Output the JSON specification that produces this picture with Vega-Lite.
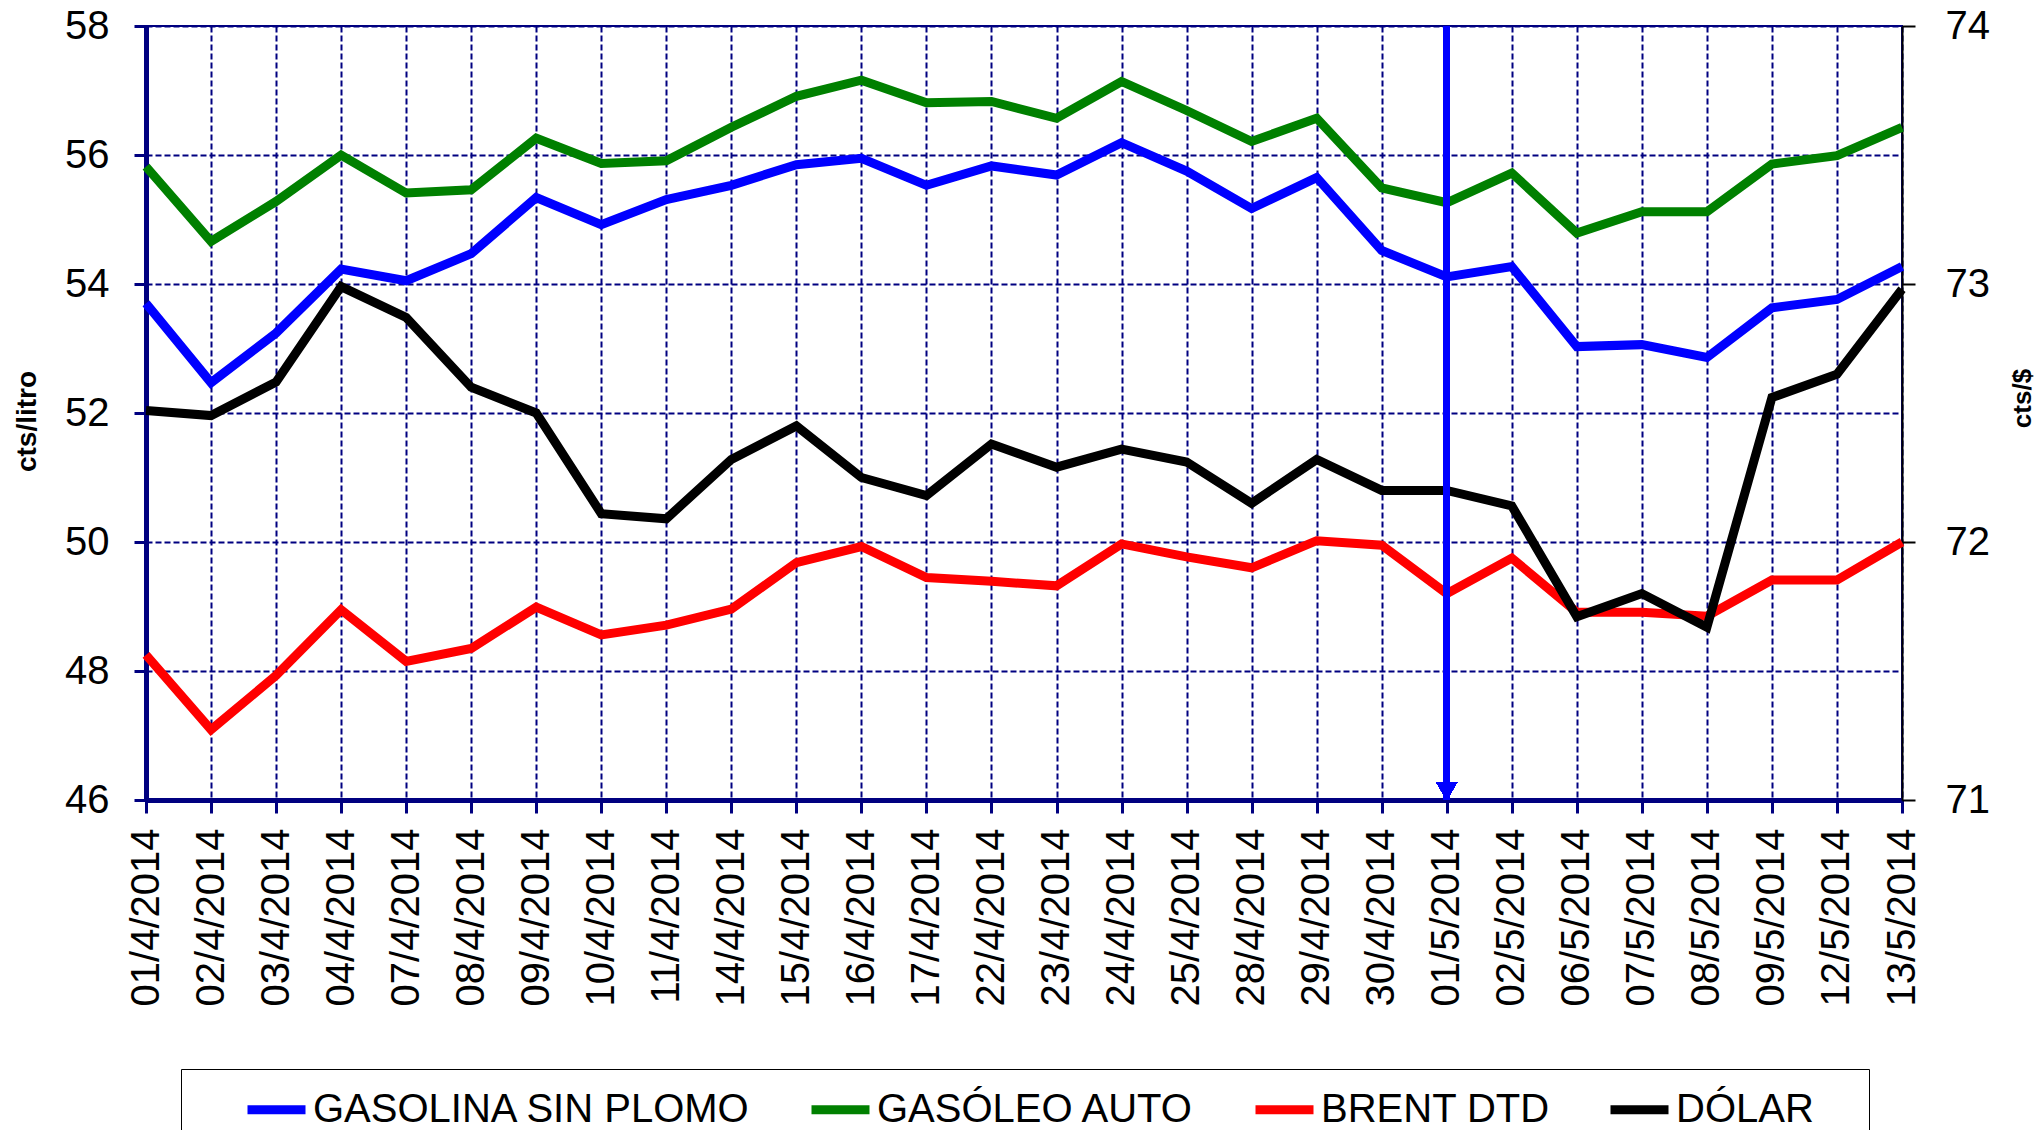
{
  "$schema": "https://vega.github.io/schema/vega-lite/v6.json",
  "width": 1756,
  "height": 774,
  "autosize": {"type": "none"},
  "padding": {"left": 146, "top": 26, "right": 135, "bottom": 330},
  "background": "white",
  "config": {
    "font": "Liberation Sans",
    "view": {"stroke": "#000080", "strokeWidth": 2},
    "axis": {"labelFont": "Liberation Sans", "labelFontSize": 40, "labelColor": "black", "titleFont": "Liberation Sans"}
  },
  "data": {"values": [
    {"fecha": "01/4/2014", "serie": "GASOLINA SIN PLOMO", "valor": 53.70},
    {"fecha": "02/4/2014", "serie": "GASOLINA SIN PLOMO", "valor": 52.47},
    {"fecha": "03/4/2014", "serie": "GASOLINA SIN PLOMO", "valor": 53.24},
    {"fecha": "04/4/2014", "serie": "GASOLINA SIN PLOMO", "valor": 54.23},
    {"fecha": "07/4/2014", "serie": "GASOLINA SIN PLOMO", "valor": 54.05},
    {"fecha": "08/4/2014", "serie": "GASOLINA SIN PLOMO", "valor": 54.47},
    {"fecha": "09/4/2014", "serie": "GASOLINA SIN PLOMO", "valor": 55.34},
    {"fecha": "10/4/2014", "serie": "GASOLINA SIN PLOMO", "valor": 54.92},
    {"fecha": "11/4/2014", "serie": "GASOLINA SIN PLOMO", "valor": 55.31},
    {"fecha": "14/4/2014", "serie": "GASOLINA SIN PLOMO", "valor": 55.53},
    {"fecha": "15/4/2014", "serie": "GASOLINA SIN PLOMO", "valor": 55.85},
    {"fecha": "16/4/2014", "serie": "GASOLINA SIN PLOMO", "valor": 55.95},
    {"fecha": "17/4/2014", "serie": "GASOLINA SIN PLOMO", "valor": 55.53},
    {"fecha": "22/4/2014", "serie": "GASOLINA SIN PLOMO", "valor": 55.83},
    {"fecha": "23/4/2014", "serie": "GASOLINA SIN PLOMO", "valor": 55.69},
    {"fecha": "24/4/2014", "serie": "GASOLINA SIN PLOMO", "valor": 56.19},
    {"fecha": "25/4/2014", "serie": "GASOLINA SIN PLOMO", "valor": 55.75},
    {"fecha": "28/4/2014", "serie": "GASOLINA SIN PLOMO", "valor": 55.17},
    {"fecha": "29/4/2014", "serie": "GASOLINA SIN PLOMO", "valor": 55.65},
    {"fecha": "30/4/2014", "serie": "GASOLINA SIN PLOMO", "valor": 54.52},
    {"fecha": "01/5/2014", "serie": "GASOLINA SIN PLOMO", "valor": 54.11},
    {"fecha": "02/5/2014", "serie": "GASOLINA SIN PLOMO", "valor": 54.27},
    {"fecha": "06/5/2014", "serie": "GASOLINA SIN PLOMO", "valor": 53.03},
    {"fecha": "07/5/2014", "serie": "GASOLINA SIN PLOMO", "valor": 53.06},
    {"fecha": "08/5/2014", "serie": "GASOLINA SIN PLOMO", "valor": 52.86},
    {"fecha": "09/5/2014", "serie": "GASOLINA SIN PLOMO", "valor": 53.63},
    {"fecha": "12/5/2014", "serie": "GASOLINA SIN PLOMO", "valor": 53.76},
    {"fecha": "13/5/2014", "serie": "GASOLINA SIN PLOMO", "valor": 54.27},
    {"fecha": "01/4/2014", "serie": "GASÓLEO AUTO", "valor": 55.82},
    {"fecha": "02/4/2014", "serie": "GASÓLEO AUTO", "valor": 54.66},
    {"fecha": "03/4/2014", "serie": "GASÓLEO AUTO", "valor": 55.28},
    {"fecha": "04/4/2014", "serie": "GASÓLEO AUTO", "valor": 56.00},
    {"fecha": "07/4/2014", "serie": "GASÓLEO AUTO", "valor": 55.41},
    {"fecha": "08/4/2014", "serie": "GASÓLEO AUTO", "valor": 55.46},
    {"fecha": "09/4/2014", "serie": "GASÓLEO AUTO", "valor": 56.26},
    {"fecha": "10/4/2014", "serie": "GASÓLEO AUTO", "valor": 55.87},
    {"fecha": "11/4/2014", "serie": "GASÓLEO AUTO", "valor": 55.91},
    {"fecha": "14/4/2014", "serie": "GASÓLEO AUTO", "valor": 56.43},
    {"fecha": "15/4/2014", "serie": "GASÓLEO AUTO", "valor": 56.91},
    {"fecha": "16/4/2014", "serie": "GASÓLEO AUTO", "valor": 57.16},
    {"fecha": "17/4/2014", "serie": "GASÓLEO AUTO", "valor": 56.81},
    {"fecha": "22/4/2014", "serie": "GASÓLEO AUTO", "valor": 56.83},
    {"fecha": "23/4/2014", "serie": "GASÓLEO AUTO", "valor": 56.57},
    {"fecha": "24/4/2014", "serie": "GASÓLEO AUTO", "valor": 57.14},
    {"fecha": "25/4/2014", "serie": "GASÓLEO AUTO", "valor": 56.69},
    {"fecha": "28/4/2014", "serie": "GASÓLEO AUTO", "valor": 56.21},
    {"fecha": "29/4/2014", "serie": "GASÓLEO AUTO", "valor": 56.57},
    {"fecha": "30/4/2014", "serie": "GASÓLEO AUTO", "valor": 55.49},
    {"fecha": "01/5/2014", "serie": "GASÓLEO AUTO", "valor": 55.26},
    {"fecha": "02/5/2014", "serie": "GASÓLEO AUTO", "valor": 55.72},
    {"fecha": "06/5/2014", "serie": "GASÓLEO AUTO", "valor": 54.79},
    {"fecha": "07/5/2014", "serie": "GASÓLEO AUTO", "valor": 55.12},
    {"fecha": "08/5/2014", "serie": "GASÓLEO AUTO", "valor": 55.12},
    {"fecha": "09/5/2014", "serie": "GASÓLEO AUTO", "valor": 55.86},
    {"fecha": "12/5/2014", "serie": "GASÓLEO AUTO", "valor": 55.99},
    {"fecha": "13/5/2014", "serie": "GASÓLEO AUTO", "valor": 56.43},
    {"fecha": "01/4/2014", "serie": "BRENT DTD", "valor": 48.25},
    {"fecha": "02/4/2014", "serie": "BRENT DTD", "valor": 47.09},
    {"fecha": "03/4/2014", "serie": "BRENT DTD", "valor": 47.93},
    {"fecha": "04/4/2014", "serie": "BRENT DTD", "valor": 48.95},
    {"fecha": "07/4/2014", "serie": "BRENT DTD", "valor": 48.15},
    {"fecha": "08/4/2014", "serie": "BRENT DTD", "valor": 48.35},
    {"fecha": "09/4/2014", "serie": "BRENT DTD", "valor": 48.99},
    {"fecha": "10/4/2014", "serie": "BRENT DTD", "valor": 48.56},
    {"fecha": "11/4/2014", "serie": "BRENT DTD", "valor": 48.71},
    {"fecha": "14/4/2014", "serie": "BRENT DTD", "valor": 48.96},
    {"fecha": "15/4/2014", "serie": "BRENT DTD", "valor": 49.68},
    {"fecha": "16/4/2014", "serie": "BRENT DTD", "valor": 49.93},
    {"fecha": "17/4/2014", "serie": "BRENT DTD", "valor": 49.45},
    {"fecha": "22/4/2014", "serie": "BRENT DTD", "valor": 49.39},
    {"fecha": "23/4/2014", "serie": "BRENT DTD", "valor": 49.32},
    {"fecha": "24/4/2014", "serie": "BRENT DTD", "valor": 49.97},
    {"fecha": "25/4/2014", "serie": "BRENT DTD", "valor": 49.77},
    {"fecha": "28/4/2014", "serie": "BRENT DTD", "valor": 49.60},
    {"fecha": "29/4/2014", "serie": "BRENT DTD", "valor": 50.02},
    {"fecha": "30/4/2014", "serie": "BRENT DTD", "valor": 49.95},
    {"fecha": "01/5/2014", "serie": "BRENT DTD", "valor": 49.20},
    {"fecha": "02/5/2014", "serie": "BRENT DTD", "valor": 49.75},
    {"fecha": "06/5/2014", "serie": "BRENT DTD", "valor": 48.91},
    {"fecha": "07/5/2014", "serie": "BRENT DTD", "valor": 48.91},
    {"fecha": "08/5/2014", "serie": "BRENT DTD", "valor": 48.85},
    {"fecha": "09/5/2014", "serie": "BRENT DTD", "valor": 49.41},
    {"fecha": "12/5/2014", "serie": "BRENT DTD", "valor": 49.41},
    {"fecha": "13/5/2014", "serie": "BRENT DTD", "valor": 50.00},
    {"fecha": "01/4/2014", "serie": "DÓLAR", "valor": 72.51},
    {"fecha": "02/4/2014", "serie": "DÓLAR", "valor": 72.49},
    {"fecha": "03/4/2014", "serie": "DÓLAR", "valor": 72.62},
    {"fecha": "04/4/2014", "serie": "DÓLAR", "valor": 72.99},
    {"fecha": "07/4/2014", "serie": "DÓLAR", "valor": 72.87},
    {"fecha": "08/4/2014", "serie": "DÓLAR", "valor": 72.60},
    {"fecha": "09/4/2014", "serie": "DÓLAR", "valor": 72.50},
    {"fecha": "10/4/2014", "serie": "DÓLAR", "valor": 72.11},
    {"fecha": "11/4/2014", "serie": "DÓLAR", "valor": 72.09},
    {"fecha": "14/4/2014", "serie": "DÓLAR", "valor": 72.32},
    {"fecha": "15/4/2014", "serie": "DÓLAR", "valor": 72.45},
    {"fecha": "16/4/2014", "serie": "DÓLAR", "valor": 72.25},
    {"fecha": "17/4/2014", "serie": "DÓLAR", "valor": 72.18},
    {"fecha": "22/4/2014", "serie": "DÓLAR", "valor": 72.38},
    {"fecha": "23/4/2014", "serie": "DÓLAR", "valor": 72.29},
    {"fecha": "24/4/2014", "serie": "DÓLAR", "valor": 72.36},
    {"fecha": "25/4/2014", "serie": "DÓLAR", "valor": 72.31},
    {"fecha": "28/4/2014", "serie": "DÓLAR", "valor": 72.15},
    {"fecha": "29/4/2014", "serie": "DÓLAR", "valor": 72.32},
    {"fecha": "30/4/2014", "serie": "DÓLAR", "valor": 72.20},
    {"fecha": "01/5/2014", "serie": "DÓLAR", "valor": 72.20},
    {"fecha": "02/5/2014", "serie": "DÓLAR", "valor": 72.14},
    {"fecha": "06/5/2014", "serie": "DÓLAR", "valor": 71.71},
    {"fecha": "07/5/2014", "serie": "DÓLAR", "valor": 71.80},
    {"fecha": "08/5/2014", "serie": "DÓLAR", "valor": 71.67},
    {"fecha": "09/5/2014", "serie": "DÓLAR", "valor": 72.56},
    {"fecha": "12/5/2014", "serie": "DÓLAR", "valor": 72.65},
    {"fecha": "13/5/2014", "serie": "DÓLAR", "valor": 72.98}
  ]},
  "encoding": {
    "x": {
      "field": "fecha", "type": "ordinal", "sort": null,
      "scale": {"type": "point", "padding": 0},
      "axis": {
        "title": null, "labelAngle": -90, "labelFontSize": 40, "labelPadding": 15,
        "domainColor": "#000080", "domainWidth": 5,
        "tickColor": "#000080", "tickWidth": 3, "tickSize": 13,
        "grid": true, "gridColor": "#000080", "gridDash": [6, 3], "gridWidth": 2
      }
    }
  },
  "layer": [
    {
      "transform": [{"filter": "datum.serie !== 'DÓLAR'"}],
      "mark": {"type": "line", "strokeWidth": 9},
      "encoding": {
        "y": {
          "field": "valor", "type": "quantitative",
          "scale": {"domain": [46, 58], "nice": false, "zero": false},
          "axis": {
            "values": [46, 48, 50, 52, 54, 56, 58],
            "title": "cts/litro", "titleFontSize": 28, "titleFontWeight": "bold", "titleColor": "black",
            "titleAngle": 270, "titleX": -119, "titleY": 395, "titleAlign": "center", "titleBaseline": "middle",
            "labelPadding": 25, "domainColor": "#000080", "domainWidth": 5,
            "tickColor": "#000080", "tickWidth": 3, "tickSize": 12,
            "grid": true, "gridColor": "#000080", "gridDash": [6, 3], "gridWidth": 2
          }
        },
        "color": {
          "field": "serie", "type": "nominal",
          "scale": {"domain": ["GASOLINA SIN PLOMO", "GASÓLEO AUTO", "BRENT DTD", "DÓLAR"], "range": ["#0000FF", "#008000", "#FF0000", "#000000"]},
          "legend": {
            "orient": "none", "legendX": 35, "legendY": 1043, "direction": "horizontal",
            "title": "\u00a0", "titleOrient": "right", "titlePadding": 48, "titleFontSize": 10,
            "labelFont": "Liberation Sans", "labelFontSize": 40, "labelColor": "black", "labelLimit": 0,
            "symbolType": "stroke", "symbolStrokeWidth": 9, "symbolSize": 3364, "labelOffset": 3,
            "columnPadding": 1, "symbolOffset": 55, "padding": 7,
            "strokeColor": "black", "fillColor": "white"
          }
        }
      }
    },
    {
      "transform": [{"filter": "datum.serie === 'DÓLAR'"}],
      "mark": {"type": "line", "strokeWidth": 9},
      "encoding": {
        "y": {
          "field": "valor", "type": "quantitative",
          "scale": {"domain": [71, 74], "nice": false, "zero": false},
          "axis": {
            "orient": "right", "values": [71, 72, 73, 74], "grid": false,
            "title": "cts/$", "titleFontSize": 26, "titleFontWeight": "bold", "titleColor": "black",
            "titleAngle": 270, "titleX": 120, "titleY": 372, "titleAlign": "center", "titleBaseline": "middle",
            "labelPadding": 30, "domainColor": "black", "domainWidth": 2,
            "tickColor": "black", "tickWidth": 2, "tickSize": 13
          }
        },
        "color": {"field": "serie", "type": "nominal"}
      }
    },
    {
      "mark": {"type": "rule", "color": "#0000FF", "strokeWidth": 6},
      "encoding": {"x": {"datum": "01/5/2014"}}
    },
    {
      "mark": {"type": "point", "shape": "triangle-down", "filled": true, "color": "#0000FF", "size": 441, "opacity": 1, "yOffset": -9},
      "encoding": {
        "x": {"datum": "01/5/2014"},
        "y": {"datum": 46, "type": "quantitative", "scale": {"domain": [46, 58], "nice": false, "zero": false}, "axis": null}
      }
    }
  ],
  "resolve": {"scale": {"y": "independent"}}
}
